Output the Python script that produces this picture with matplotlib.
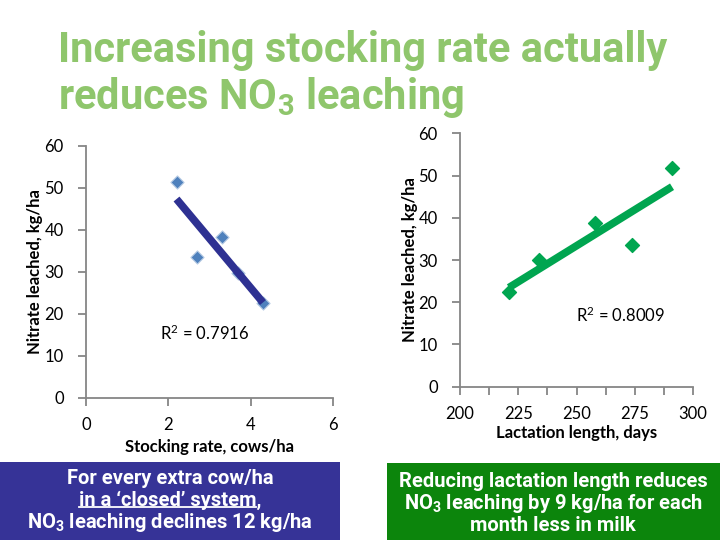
import matplotlib
matplotlib.use("Agg")
import matplotlib.pyplot as plt
import numpy as np

# stocking rate panel
stock_rate = [2.2, 2.7, 3.3, 3.7, 4.3]
stock_no3 = [51.5, 33.5, 38.4, 29.8, 22.5]
stock_r2 = "R$\\mathregular{^2}$ = 0.7916"

# lactation length panel
lact_days = [221, 234, 258, 274, 291]
lact_no3 = [22.5, 30.0, 38.7, 33.5, 51.7]
lact_r2 = "R$\\mathregular{^2}$ = 0.8009"

title_lines = ["Increasing stocking rate actually",
               "reduces NO$\\mathregular{_3}$ leaching"]
left_note = ["For every extra cow/ha",
             "in a \u2018closed\u2019 system,",
             "NO$\\mathregular{_3}$ leaching declines 12 kg/ha"]
right_note = ["Reducing lactation length reduces",
              "NO$\\mathregular{_3}$ leaching by 9 kg/ha for each",
              "month less in milk"]

NARROW = ["Roboto", "DejaVu Sans"]
TICKFONT = ["Lato", "DejaVu Sans"]
GREY = "#868686"

fig = plt.figure(figsize=(7.2, 5.4), dpi=100)


def style_axes(ax):
    for s in ("top", "right"):
        ax.spines[s].set_visible(False)
    for s in ("left", "bottom"):
        ax.spines[s].set_color(GREY)
        ax.spines[s].set_linewidth(1.3)
    ax.tick_params(colors=GREY, labelcolor="black", labelsize=12, length=6, width=1.3, pad=10)
    for lab in ax.get_xticklabels() + ax.get_yticklabels():
        lab.set_family(TICKFONT)
    ax.set_ylim(0, 60)
    ax.set_yticks(range(0, 61, 10))


# left chart
ax1 = fig.add_axes([0.1194, 0.263, 0.343, 0.467])
ax1.set_xlim(0, 6)
ax1.set_xticks([0, 2, 4, 6])
style_axes(ax1)
ax1.tick_params(axis="x", pad=8)
k, b = np.polyfit(stock_rate, stock_no3, 1)
xs = np.array([min(stock_rate), max(stock_rate)])
ax1.scatter(stock_rate, stock_no3, marker="D", s=45, color="#4F81BD", edgecolor="#B9CDE5", lw=0.8, zorder=2)
ax1.plot(xs, k * xs + b, color="#2E3192", lw=5.5, solid_capstyle="butt", zorder=3)
ax1.text(1.8, 15.5, stock_r2, fontsize=12, family=TICKFONT, va="center")
ax1.set_xlabel("Stocking rate, cows/ha", fontsize=12, fontweight="bold", family=TICKFONT, labelpad=4)
ax1.set_ylabel("Nitrate leached, kg/ha", fontsize=12, fontweight="bold", family=TICKFONT)
ax1.yaxis.set_label_coords(-0.174, 0.5)

# right chart
ax2 = fig.add_axes([0.6389, 0.284, 0.3236, 0.469])
ax2.set_xlim(200, 300)
ax2.set_xticks(range(200, 301, 25))
ax2.set_xticks(np.arange(200, 301, 12.5), minor=True)
style_axes(ax2)
ax2.tick_params(axis="x", which="minor", length=6, width=1.3, colors=GREY)
ax2.tick_params(axis="x", pad=8)
k2, b2 = np.polyfit(lact_days, lact_no3, 1)
xs2 = np.array([min(lact_days), max(lact_days)])
ax2.scatter(lact_days, lact_no3, marker="D", s=50, color="#00A650", zorder=2)
ax2.plot(xs2, k2 * xs2 + b2, color="#00A550", lw=5.5, solid_capstyle="butt", zorder=3)
ax2.text(249.7, 16.8, lact_r2, fontsize=12, family=TICKFONT, va="center")
ax2.set_xlabel("Lactation length, days", fontsize=12, fontweight="bold", family=TICKFONT, labelpad=2)
ax2.set_ylabel("Nitrate leached, kg/ha", fontsize=12, fontweight="bold", family=TICKFONT)
ax2.yaxis.set_label_coords(-0.18, 0.5)

# title, one baseline per line
for line, y in zip(title_lines, [0.885, 0.798]):
    fig.text(0.081, y, line, fontsize=30, fontweight="bold", family=NARROW,
             color="#8FC66C", va="baseline", ha="left")

# note boxes
fig.patches.append(plt.Rectangle((0.0, 0.0), 0.472, 0.1444, transform=fig.transFigure,
                                 facecolor="#363397", edgecolor="none"))
fig.patches.append(plt.Rectangle((0.5375, 0.0), 0.4625, 0.1426, transform=fig.transFigure,
                                 facecolor="#0C850C", edgecolor="none"))
left_texts = []
for line, y in zip(left_note, [0.1148, 0.0741, 0.0315]):
    left_texts.append(fig.text(0.236, y, line, fontsize=14.5, fontweight="bold", family=NARROW,
                               color="white", ha="center", va="center"))
for line, y in zip(right_note, [0.109, 0.0685, 0.026]):
    fig.text(0.7685, y, line, fontsize=14.5, fontweight="bold", family=NARROW,
             color="white", ha="center", va="center")

# underline "in a 'closed' system" (not the comma)
r = fig.canvas.get_renderer()
bb = left_texts[1].get_window_extent(r)
comma = fig.text(0, 0, ",", fontsize=14.5, fontweight="bold", family=NARROW)
cw = comma.get_window_extent(r).width
comma.remove()
W, H = fig.bbox.width, fig.bbox.height
fig.add_artist(plt.Line2D([bb.x0 / W, (bb.x1 - cw) / W], [(bb.y0 + 3) / H] * 2,
                          color="white", lw=1.3, transform=fig.transFigure))

fig.savefig("out.png", dpi=100)
